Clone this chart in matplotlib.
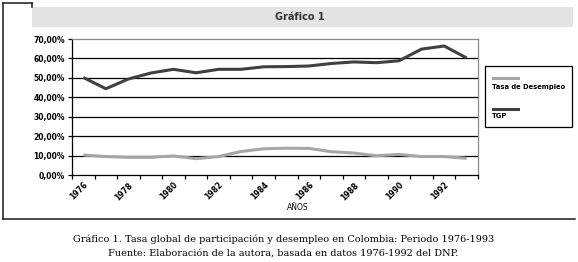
import matplotlib
matplotlib.use('Agg')
import matplotlib.pyplot as plt
import numpy as np
from matplotlib.patches import Rectangle
from matplotlib.lines import Line2D

# datos
years = list(range(1976, 1994))
tgp = [50.2, 44.4, 49.4, 52.5, 54.4, 52.6, 54.4, 54.4, 55.7, 55.8,
       56.1, 57.4, 58.2, 57.8, 58.8, 64.8, 66.4, 60.2]
desempleo = [10.3, 9.5, 9.1, 9.1, 9.8, 8.4, 9.5, 12.1, 13.5, 13.8,
             13.7, 12.0, 11.3, 9.9, 10.6, 9.5, 9.5, 8.6]
ytick_vals = [0, 10, 20, 30, 40, 50, 60, 70]
ytick_labels = ['0,00%', '10,00%', '20,00%', '30,00%', '40,00%', '50,00%', '60,00%', '70,00%']
title = 'Gráfico 1'
caption1 = 'Gráfico 1. Tasa global de participación y desempleo en Colombia: Periodo 1976-1993'
caption2 = 'Fuente: Elaboración de la autora, basada en datos 1976-1992 del DNP.'

W, H = 578, 262
fig = plt.figure(figsize=(W / 100, H / 100), dpi=100)

def fx(px):
    return px / W

def fy(py):
    return 1 - py / H

# marco exterior
fig.add_artist(Line2D([fx(3), fx(3)], [fy(3), fy(219)], color='#1a1a1a', lw=1.1))
fig.add_artist(Line2D([fx(3), fx(32)], [fy(3), fy(3)], color='#1a1a1a', lw=1.1))
fig.add_artist(Line2D([fx(32), fx(32)], [fy(3), fy(7)], color='#1a1a1a', lw=1.1))
fig.add_artist(Line2D([fx(3), fx(575)], [fy(219), fy(219)], color='#1a1a1a', lw=1.1))

# banda del titulo
fig.add_artist(Rectangle((fx(32), fy(27)), fx(573 - 32), 20 / H,
                         facecolor='#e3e3e3', edgecolor='none'))
fig.text(fx(300), fy(17), title, ha='center', va='center', fontsize=7,
         fontweight='bold', color='#333333')

ax = fig.add_axes([fx(72), fy(175), fx(478 - 72), (175 - 39) / H])
x = np.arange(len(years))
ax.plot(x, desempleo, color='#a6a6a6', lw=2.2, solid_capstyle='butt', zorder=3)
ax.plot(x, tgp, color='#404040', lw=2.2, solid_capstyle='butt', zorder=3)

ax.set_xlim(-0.5, len(years) - 0.5)
ax.set_ylim(0, 70)
ax.set_yticks(ytick_vals)
ax.set_yticklabels(ytick_labels, fontsize=5.5, fontweight='bold')
for v in ytick_vals[1:-1]:
    ax.axhline(v, color='black', lw=0.9, zorder=1)

ax.set_xticks(np.arange(-0.5, len(years), 1))
ax.set_xticklabels([])
ax.set_xticks(x[::2], minor=True)
ax.set_xticklabels([str(y) for y in years[::2]], minor=True, rotation=45,
                   ha='right', va='top', rotation_mode='anchor',
                   fontsize=5.5, fontweight='bold')
ax.tick_params(axis='x', which='major', length=3, width=0.9, direction='out')
ax.tick_params(axis='x', which='minor', length=0, pad=4)
ax.tick_params(axis='y', length=3, width=0.9, direction='out', pad=2)

for s in ['top', 'right']:
    ax.spines[s].set_color('#888888')
    ax.spines[s].set_linewidth(0.9)
for s in ['left', 'bottom']:
    ax.spines[s].set_color('black')
    ax.spines[s].set_linewidth(0.9)

fig.text(fx(298), fy(207), 'AÑOS', ha='center', va='center', fontsize=5.5)

# leyenda
fig.add_artist(Rectangle((fx(485), fy(127)), fx(572 - 485), (127 - 66) / H,
                         facecolor='white', edgecolor='black', lw=0.9))
fig.add_artist(Line2D([fx(493), fx(518)], [fy(78), fy(78)], color='#a6a6a6', lw=2.2))
fig.text(fx(492), fy(87), 'Tasa de Desempleo', ha='left', va='center',
         fontsize=4.9, fontweight='bold')
fig.add_artist(Line2D([fx(493), fx(518)], [fy(109), fy(109)], color='#404040', lw=2.2))
fig.text(fx(492), fy(116), 'TGP', ha='left', va='center', fontsize=4.9, fontweight='bold')

# pie
fig.text(fx(284), fy(239), caption1, ha='center', va='center', fontsize=7,
         family='DejaVu Serif')
fig.text(fx(283), fy(253), caption2, ha='center', va='center', fontsize=7,
         family='DejaVu Serif')

fig.savefig('out.png', dpi=100)
